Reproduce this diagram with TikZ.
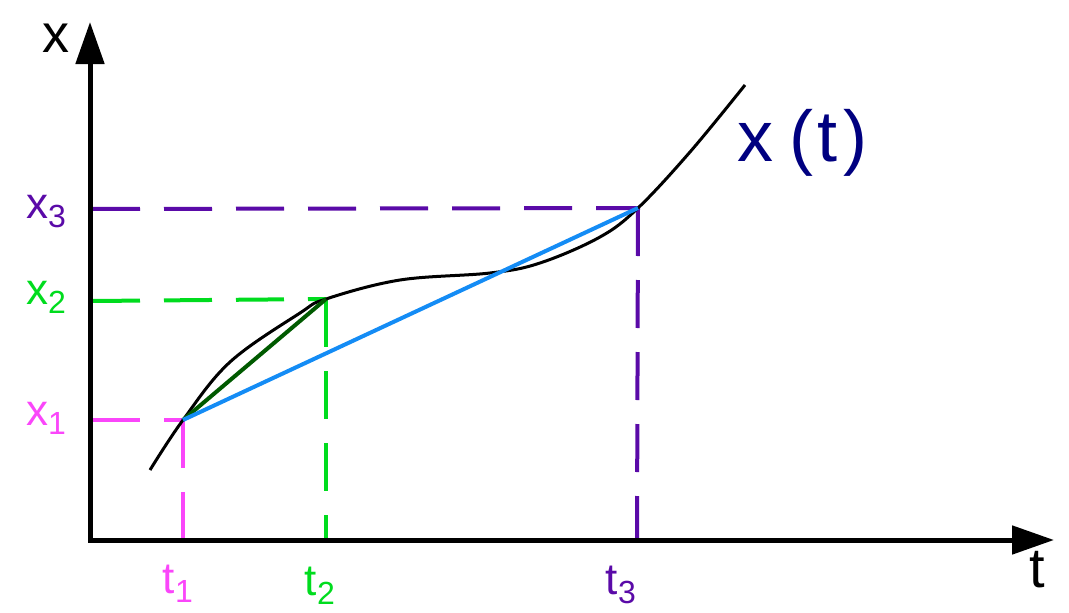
\documentclass[tikz,border=0pt]{standalone}
\usepackage{fontspec}
\setmainfont{Liberation Sans}
\usetikzlibrary{arrows.meta}
\definecolor{cmag}{RGB}{250,70,250}
\definecolor{cgreen}{RGB}{0,220,30}
\definecolor{cpurple}{RGB}{90,10,168}
\definecolor{cblue}{RGB}{20,140,245}
\definecolor{cdgreen}{RGB}{0,90,0}
\definecolor{cnavy}{RGB}{0,0,128}
\newcommand{\lsub}[1]{\raisebox{-9pt}{\fontsize{32}{32}\selectfont #1}}
\tikzset{
  axis/.style={line width=5pt,-{Triangle[length=42pt,width=28pt]}},
  guide/.style={line width=4pt,dash pattern=on 48pt off 24pt},
  lbl/.style={font=\fontsize{44}{44}\selectfont,inner sep=0pt},
  curve/.style={line width=3pt,black},
  chord/.style={line width=4pt}
}
\begin{document}
\begin{tikzpicture}[x=1pt,y=-1pt]
\useasboundingbox (0,0) rectangle (1069,613);
\coordinate (O) at (90,540);
\coordinate (ytop) at (90,22);
\coordinate (xend) at (1054,540);
\coordinate (P1) at (183,420);
\coordinate (P2) at (326,299);
\coordinate (P3) at (638,208);
\coordinate (A1) at (92,420);
\coordinate (A2) at (92,301);
\coordinate (A3) at (92,209);
\coordinate (B1) at (183,540);
\coordinate (B2) at (326,540);
\coordinate (B3) at (637,540);
% guides
\draw[guide,cmag] (A1) -- (P1);
\draw[guide,cmag] (P1) -- (B1);
\draw[guide,cgreen] (A2) -- (P2);
\draw[guide,cgreen] (P2) -- (B2);
\draw[guide,cpurple] (A3) -- (P3);
\draw[guide,cpurple] (P3) -- (B3);
% axes
\draw[axis] (O) -- (ytop);
\draw[axis] (88,540) -- (xend);
% curve
\draw[curve] plot[smooth,tension=0.6] coordinates {(150,470) (183,420) (230,362) (300,313) (326,299) (400,280) (490,273) (540,263) (600,237) (638,208) (690,152) (745,85)};
% chords
\draw[chord,cdgreen] (P1) -- (P2);
\draw[chord,cblue] (P1) -- (P3);
% labels
\node[lbl,font=\fontsize{54}{54}\selectfont] (lx) at (56,38) {x};
\node[lbl,font=\fontsize{56}{56}\selectfont] (lt) at (1037,570) {t};
\node[lbl,text=cmag] (lx1) at (46,418) {x\lsub{1}};
\node[lbl,text=cgreen] (lx2) at (46,297) {x\lsub{2}};
\node[lbl,text=cpurple] (lx3) at (46,212) {x\lsub{3}};
\node[lbl,text=cmag] (lt1) at (178,584) {t\lsub{1}};
\node[lbl,text=cgreen] (lt2) at (320,586) {t\lsub{2}};
\node[lbl,text=cpurple] (lt3) at (621,585) {t\lsub{3}};
\node[lbl,text=cnavy,font=\fontsize{72}{72}\selectfont] (lxt) at (802,143) {x\kern16pt(\kern5pt t\kern5pt)};
\end{tikzpicture}
\end{document}
